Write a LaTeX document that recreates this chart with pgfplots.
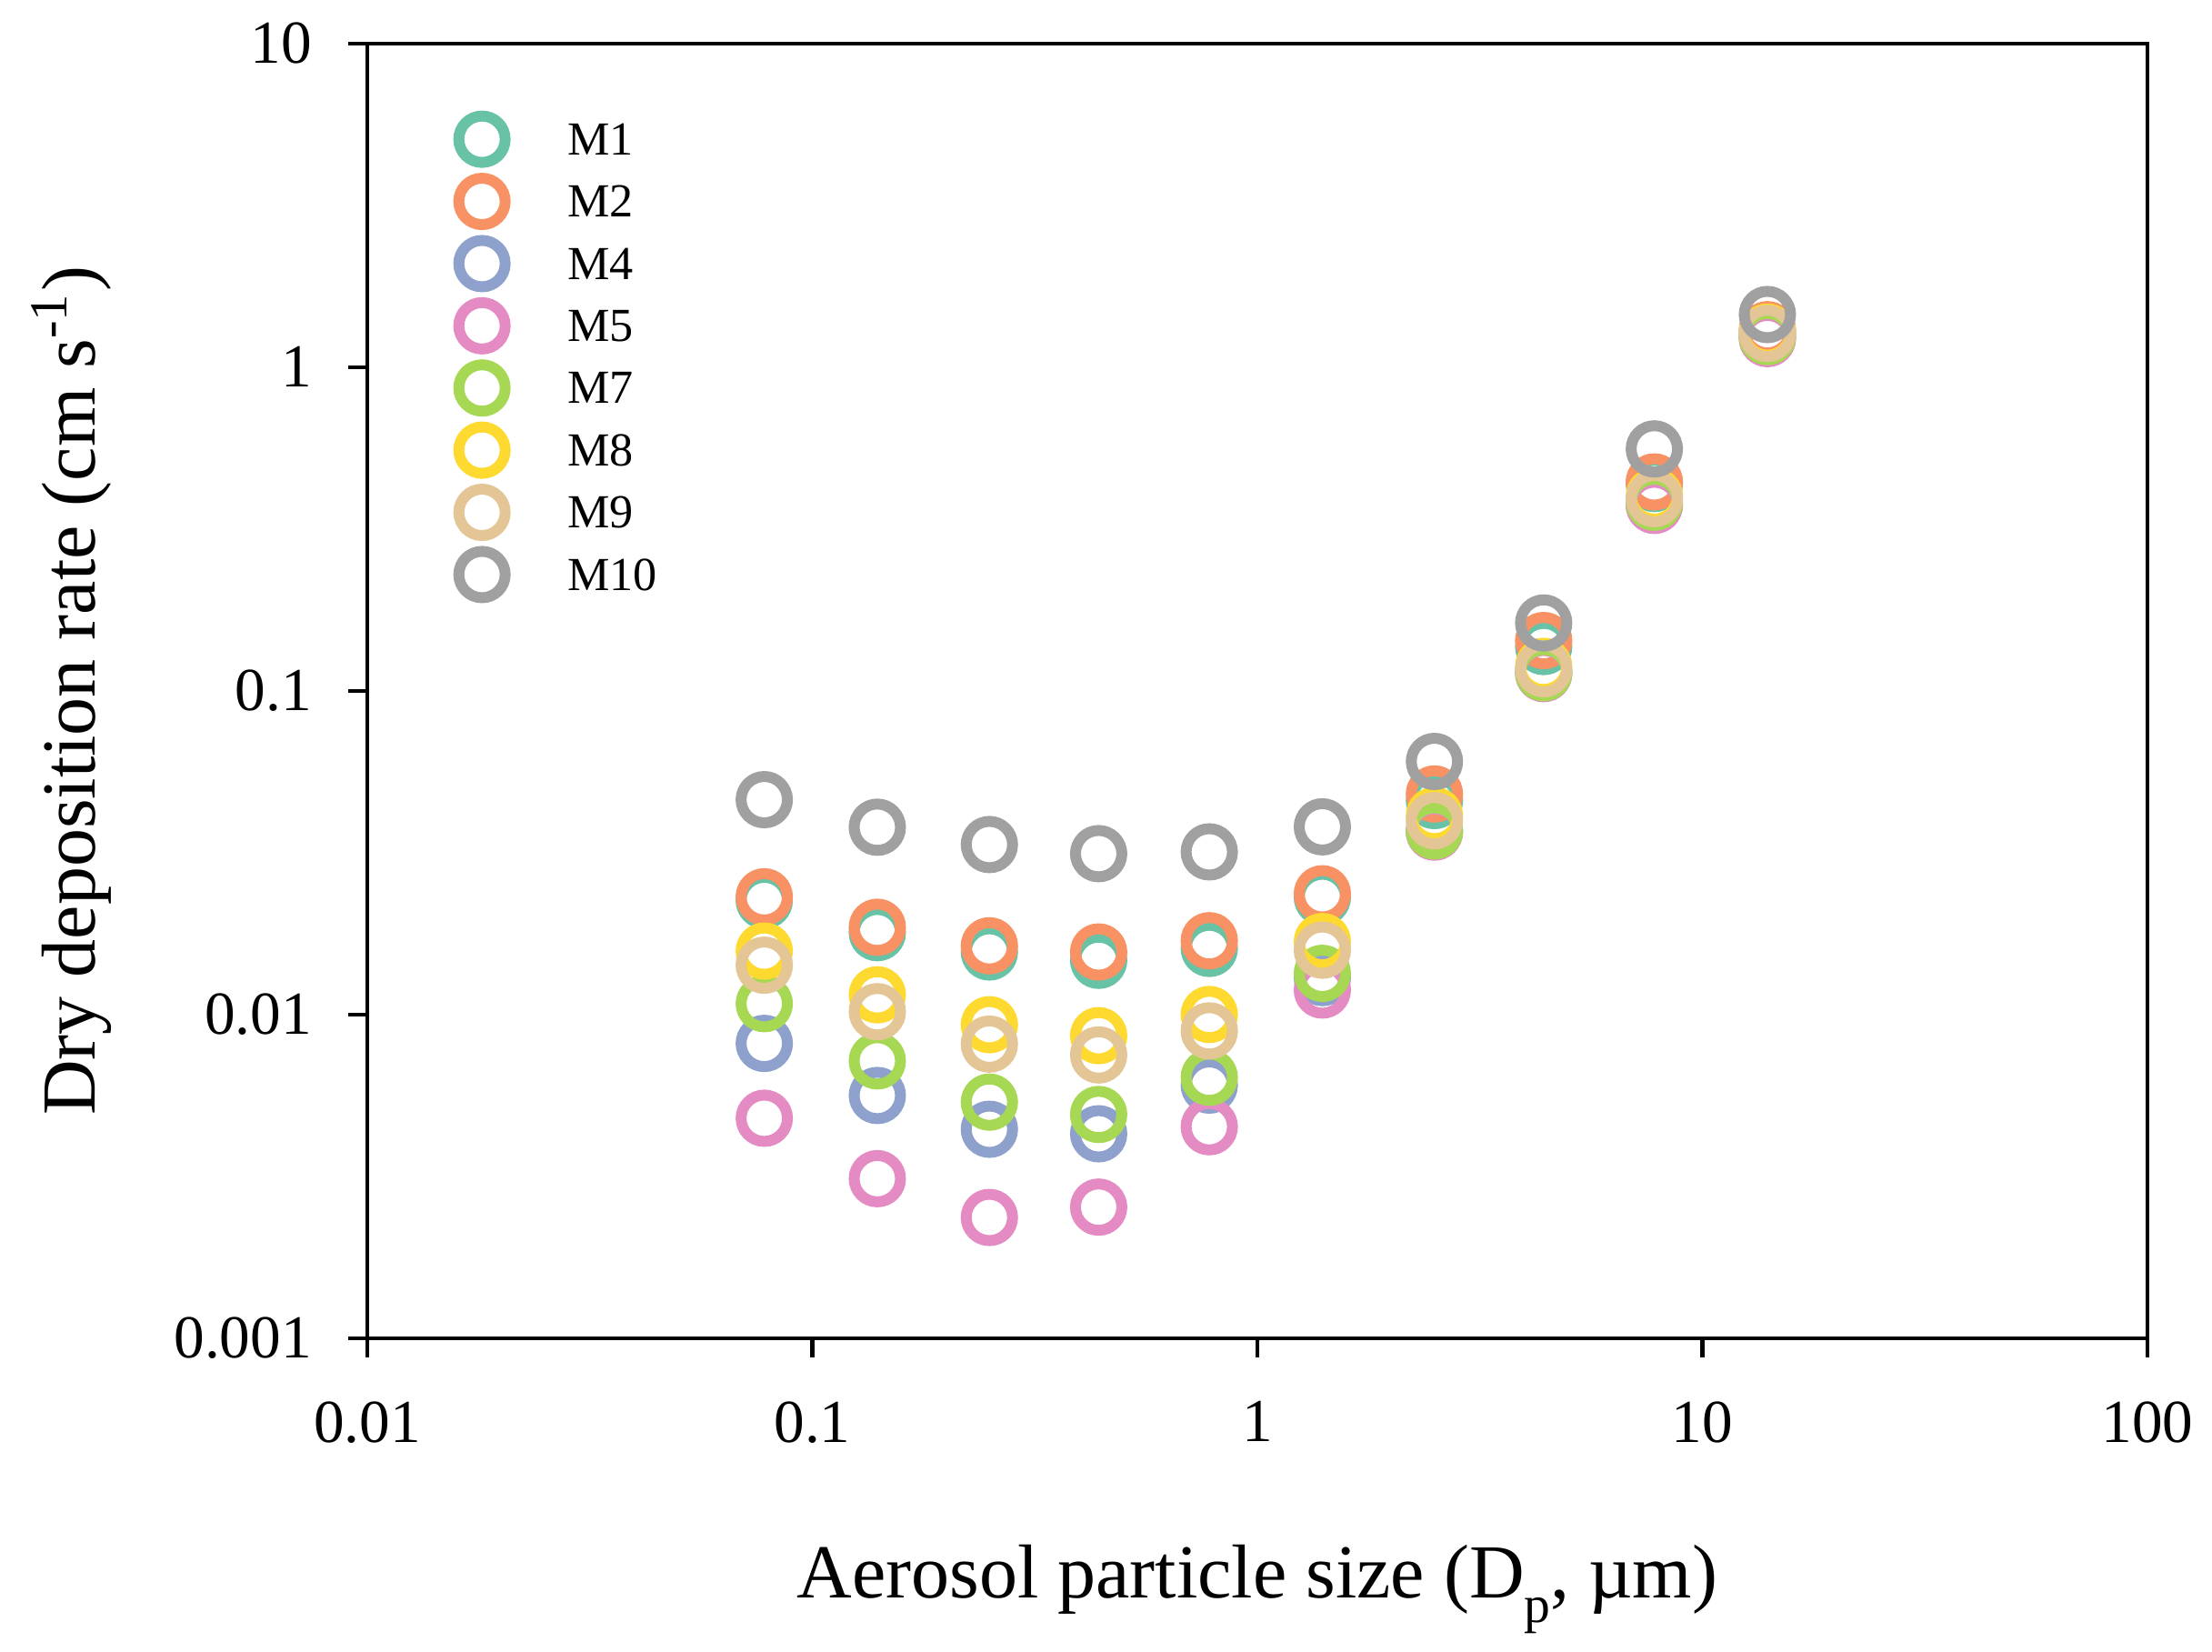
\documentclass[border=0pt]{standalone}
\usepackage{fontspec}
\setmainfont{Liberation Serif}
\usepackage{pgfplots}
\pgfplotsset{compat=1.18}
\definecolor{c1}{RGB}{104,194,166}
\definecolor{c2}{RGB}{248,145,100}
\definecolor{c4}{RGB}{142,161,204}
\definecolor{c5}{RGB}{228,139,195}
\definecolor{c7}{RGB}{167,216,84}
\definecolor{c8}{RGB}{254,218,48}
\definecolor{c9}{RGB}{227,197,150}
\definecolor{c10}{RGB}{160,160,160}
\pgfplotsset{
  ring/.style={only marks, mark=o, mark size=4.25pt, line width=2pt, mark options={solid},
    legend image code/.code={\draw[##1] plot coordinates {(0pt,0pt)}; \path[draw=none,fill=none] (-6pt,-5.7pt) rectangle (15.67pt,5.7pt);}},
}
\begin{document}
\begin{tikzpicture}
\useasboundingbox (-67.33pt,-57.53pt) rectangle (338.17pt,245.3pt);
\begin{axis}[
  at={(0,0)}, anchor=south west,
  scale only axis, width=326.33pt, height=237.33pt,
  xmode=log, ymode=log,
  xmin=0.01, xmax=100, ymin=0.001, ymax=10,
  xtick={0.01,0.1,1,10,100}, xticklabels={0.01,0.1,1,10,100},
  ytick={0.001,0.01,0.1,1,10}, yticklabels={0.001,0.01,0.1,1,10},
  xminorticks=false, yminorticks=false,
  tick pos=left, tick align=outside, major tick length=3.5pt,
  tick style={line width=0.75pt, black},
  axis line style={line width=0.7pt},
  /pgf/number format/assume math mode=true,
  ticklabel style={font=\fontsize{11.2}{13}\selectfont, inner sep=0pt},
  xticklabel style={anchor=north, yshift=-7.9pt},
  yticklabel style={anchor=east, xshift=-6.5pt},
  xlabel={Aerosol particle size (D\raisebox{-4.6pt}{\fontsize{9.6}{10}\selectfont p}, µm)},
  ylabel={Dry deposition rate (cm s\textsuperscript{-1})},
  label style={font=\fontsize{14}{16}\selectfont, inner sep=0pt},
  xlabel style={at={(axis description cs:0.5,0)}, anchor=base, yshift=-47.55pt},
  ylabel style={at={(axis description cs:-0.1527,0.5)}, anchor=base},
  legend cell align=left,
  legend style={draw=none, fill=none, inner sep=0pt, row sep=0pt,
    at={(axis description cs:0.04545,0.9509)}, anchor=north west,
    font=\fontsize{8.7}{10}\selectfont,
    nodes={inner sep=0pt, text depth=0pt}},
]
\addplot[ring, color=c1] coordinates {
(0.078,0.0225) (0.14,0.0179) (0.25,0.0156) (0.44,0.0147) (0.78,0.0160)
(1.4,0.0230) (2.5,0.0458) (4.4,0.137) (7.8,0.437) (14,1.28)};
\addlegendentry{M1}
\addplot[ring, color=c2] coordinates {
(0.078,0.0231) (0.14,0.0186) (0.25,0.0163) (0.44,0.0156) (0.78,0.0169)
(1.4,0.0236) (2.5,0.0480) (4.4,0.143) (7.8,0.442) (14,1.305)};
\addlegendentry{M2}
\addplot[ring, color=c4] coordinates {
(0.078,0.00814) (0.14,0.00562) (0.25,0.00442) (0.44,0.00428) (0.78,0.00605)
(1.4,0.0130) (2.5,0.0370) (4.4,0.114) (7.8,0.378) (14,1.24)};
\addlegendentry{M4}
\addplot[ring, color=c5] coordinates {
(0.078,0.00478) (0.14,0.00311) (0.25,0.00236) (0.44,0.00254) (0.78,0.0045)
(1.4,0.0119) (2.5,0.0366) (4.4,0.113) (7.8,0.374) (14,1.225)};
\addlegendentry{M5}
\addplot[ring, color=c7] coordinates {
(0.078,0.0108) (0.14,0.00719) (0.25,0.00536) (0.44,0.00491) (0.78,0.0064)
(1.4,0.0134) (2.5,0.0369) (4.4,0.1137) (7.8,0.3825) (14,1.243)};
\addlegendentry{M7}
\addplot[ring, color=c8] coordinates {
(0.078,0.0157) (0.14,0.0115) (0.25,0.0093) (0.44,0.0086) (0.78,0.0100)
(1.4,0.0168) (2.5,0.0412) (4.4,0.119) (7.8,0.40) (14,1.284)};
\addlegendentry{M8}
\addplot[ring, color=c9] coordinates {
(0.078,0.0142) (0.14,0.0102) (0.25,0.0081) (0.44,0.0075) (0.78,0.0089)
(1.4,0.0158) (2.5,0.0397) (4.4,0.117) (7.8,0.3926) (14,1.271)};
\addlegendentry{M9}
\addplot[ring, color=c10] coordinates {
(0.078,0.0461) (0.14,0.0379) (0.25,0.0335) (0.44,0.0314) (0.78,0.0318)
(1.4,0.0380) (2.5,0.0605) (4.4,0.162) (7.8,0.559) (14,1.454)};
\addlegendentry{M10}
\end{axis}
\end{tikzpicture}
\end{document}
